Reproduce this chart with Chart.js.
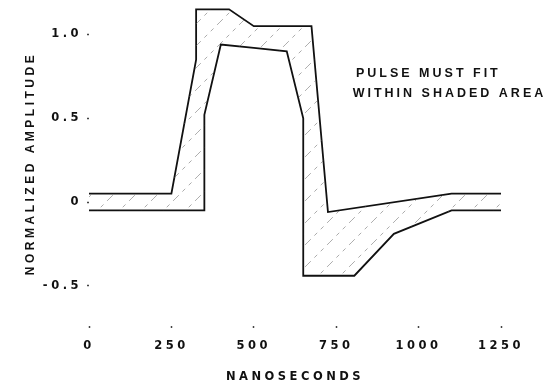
<!DOCTYPE html>
<html>
<head>
<meta charset="utf-8">
<script src="https://cdn.jsdelivr.net/npm/chart.js@4/dist/chart.umd.min.js"></script>
<style>
	html, body { margin: 0; padding: 0; background: #fff; }
	#wrap { width: 557px; height: 390px; }
</style>
</head>
<body>
<div id="wrap"><canvas id="pulseChart"></canvas></div>
<script>
// upper and lower limits of the pulse mask (ns, normalized amplitude)
var upperX = [0, 250, 325, 325, 425, 500, 675, 725, 1100, 1250];
var upperY = [0.05, 0.05, 0.85, 1.15, 1.15, 1.05, 1.05, -0.06, 0.05, 0.05];

var lowerX = [0, 350, 350, 400, 500, 600, 650, 650, 805, 925, 1100, 1250];
var lowerY = [-0.05, -0.05, 0.52, 0.94, 0.92, 0.9, 0.5, -0.44, -0.44, -0.19, -0.05, -0.05];

var xTicks = [0, 250, 500, 750, 1000, 1250];
var yTicks = [-0.5, 0, 0.5, 1.0];

var noteLines = ["PULSE MUST FIT", "WITHIN SHADED AREA"];

function toPoints(xs, ys) {
	return xs.map(function (x, i) {
		return { x: x, y: ys[i] };
	});
}

// closed outline: upper limit forward, lower limit back
var upperPts = toPoints(upperX, upperY);
var lowerPts = toPoints(lowerX, lowerY);
var shapePts = upperPts.concat(lowerPts.slice().reverse());

// sparse diagonal hatching for the shaded area
function makeHatch() {
	var c = document.createElement("canvas");
	c.width = 22;
	c.height = 22;
	var g = c.getContext("2d");
	g.strokeStyle = "rgba(100, 100, 100, 0.6)";
	g.lineWidth = 0.9;
	g.setLineDash([4, 5]);
	g.beginPath();
	g.moveTo(0, 22);
	g.lineTo(22, 0);
	g.stroke();
	return g.createPattern(c, "repeat");
}

var spacing = {
	id: "spacing",
	beforeUpdate: function (chart) {
		chart.ctx.letterSpacing = "3.5px";
	},
	beforeDraw: function (chart) {
		chart.ctx.letterSpacing = "3.5px";
	},
	afterDraw: function (chart) {
		var ctx = chart.ctx;
		var xs = chart.scales.x;
		var ys = chart.scales.y;
		ctx.save();
		ctx.letterSpacing = "3px";
		ctx.font = "bold 12.5px 'Liberation Sans', Arial, sans-serif";
		ctx.fillStyle = "#111";
		ctx.textAlign = "left";
		ctx.textBaseline = "middle";
		ctx.fillText(noteLines[0], xs.getPixelForValue(810), ys.getPixelForValue(0.765));
		ctx.fillText(noteLines[1], xs.getPixelForValue(800), ys.getPixelForValue(0.65));
		ctx.restore();
	},
};

Chart.defaults.font.family = "'DejaVu Sans', sans-serif";
Chart.defaults.font.weight = "bold";
Chart.defaults.color = "#111";

var pulseChart = document.getElementById("pulseChart");
var myChart = new Chart(pulseChart, {
	type: "scatter",
	data: {
		datasets: [
			{
				label: "area",
				data: shapePts,
				showLine: true,
				borderWidth: 0,
				borderColor: "rgba(0,0,0,0)",
				backgroundColor: makeHatch(),
				fill: "shape",
				pointRadius: 0,
			},
			{
				label: "upper",
				data: upperPts,
				showLine: true,
				borderColor: "#111",
				borderWidth: 1.8,
				pointRadius: 0,
				fill: false,
			},
			{
				label: "lower",
				data: lowerPts,
				showLine: true,
				borderColor: "#111",
				borderWidth: 1.8,
				pointRadius: 0,
				fill: false,
			},
		],
	},
	options: {
		animation: false,
		maintainAspectRatio: false,
		responsive: true,
		layout: {
			padding: { top: 1, right: 56, left: 0, bottom: 0 },
		},
		plugins: {
			legend: { display: false },
			tooltip: { enabled: false },
		},
		scales: {
			x: {
				type: "linear",
				min: 0,
				max: 1250,
				afterBuildTicks: function (scale) {
					scale.ticks = xTicks.map(function (v) {
						return { value: v };
					});
				},
				afterFit: function (scale) {
					scale.height = 64;
					scale.paddingLeft = 0;
					scale.paddingRight = 0;
				},
				border: { display: false },
				grid: {
					drawOnChartArea: false,
					tickLength: 2,
					tickWidth: 1.5,
					color: "#444",
				},
				ticks: {
					padding: 11,
					font: { size: 11.5 },
					maxRotation: 0,
					callback: function (v) {
						return String(v);
					},
				},
				title: {
					display: true,
					text: "NANOSECONDS",
					font: { size: 11.5 },
					padding: { top: 0, bottom: 6 },
				},
			},
			y: {
				min: -0.74,
				max: 1.2,
				afterBuildTicks: function (scale) {
					scale.ticks = yTicks.map(function (v) {
						return { value: v };
					});
				},
				afterFit: function (scale) {
					scale.width = 89;
					scale.paddingTop = 0;
					scale.paddingBottom = 0;
				},
				border: { display: false },
				grid: {
					drawOnChartArea: false,
					tickLength: 2,
					tickWidth: 1.5,
					color: "#444",
				},
				ticks: {
					padding: 5,
					font: { size: 11.5 },
					callback: function (v) {
						return v === 0 ? "0" : v.toFixed(1);
					},
				},
				title: {
					display: true,
					text: "NORMALIZED AMPLITUDE",
					font: { size: 12, family: "'Liberation Sans', Arial, sans-serif" },
					padding: { top: 23, bottom: 0 },
				},
			},
		},
	},
	plugins: [spacing],
});
</script>
</body>
</html>
